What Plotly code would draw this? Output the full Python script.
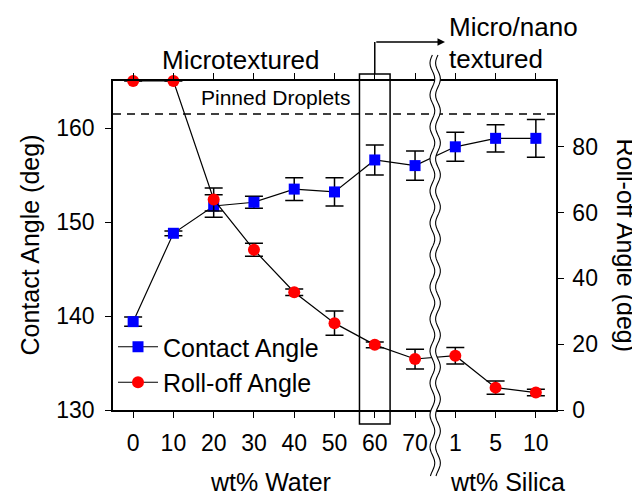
import numpy as np
import plotly.graph_objects as go

# ---------------- data ----------------
x_pos = list(range(11))
tick_labels = ["0", "10", "20", "30", "40", "50", "60", "70", "1", "5", "10"]

contact_angle = [139.4, 148.8, 151.7, 152.1, 153.5, 153.2, 156.6, 156.0, 158.0, 158.9, 158.9]
contact_err = [0.5, 0.25, 1.2, 0.65, 1.2, 1.5, 1.6, 1.55, 1.55, 1.45, 2.0]

rolloff_angle = [100, 100, 64.0, 48.7, 35.8, 26.4, 19.8, 15.5, 16.5, 6.8, 5.3]
rolloff_err = [0, 0, 3.5, 2.0, 1.0, 3.7, 0.9, 3.0, 2.5, 2.0, 1.0]

pinned_level = 90

FONT = "Liberation Sans, Arial, sans-serif"

fig = go.Figure()

fig.add_trace(go.Scatter(
    x=x_pos, y=contact_angle, name="Contact Angle", mode="lines+markers",
    line=dict(color="black", width=1.2),
    marker=dict(symbol="square", size=11, color="#0000FF"),
    error_y=dict(type="data", array=contact_err, visible=True, color="black", thickness=1.5, width=9),
    yaxis="y", cliponaxis=False,
))
fig.add_trace(go.Scatter(
    x=x_pos, y=rolloff_angle, name="Roll-off Angle", mode="lines+markers",
    line=dict(color="black", width=1.2),
    marker=dict(symbol="circle", size=12, color="#FF0000"),
    error_y=dict(type="data", array=rolloff_err, visible=True, color="black", thickness=1.5, width=9),
    yaxis="y2", cliponaxis=False,
))

# page geometry (browser body has an 8px margin)
OFF = 8
W, H = 640, 497
L, R, T, B = 113, 84, 81, 87          # plot-area edges in screen pixels
PW, PH = W - L - R, H - T - B


def py(pix_y):
    """screen pixel y -> paper y"""
    return (H - B - pix_y) / PH


def dx(pix_x):
    """screen pixel x -> data x"""
    return -0.5 + (pix_x - L) / PW * 11.0


shapes = []
# dashed "pinned" line
shapes.append(dict(type="line", xref="paper", yref="y2", x0=0, x1=1.01, y0=pinned_level, y1=pinned_level,
                   line=dict(color="black", width=1.5, dash="8px,6px"), layer="above"))
# box around 60 wt%
shapes.append(dict(type="rect", xref="x", yref="paper", x0=5.62, x1=6.38, y0=py(424), y1=py(74),
                   line=dict(color="black", width=1.5), fillcolor="rgba(0,0,0,0)", layer="above"))
# vertical part of arrow
shapes.append(dict(type="line", xref="x", yref="paper", x0=6, x1=6, y0=py(74), y1=py(42),
                   line=dict(color="black", width=1.5), layer="above"))

# axis break (double wavy line)
ys = np.linspace(py(55), py(476), 160)
amp = 2.4 / PW * 11.0
period = 32 / PH
off = 2.8 / PW * 11.0
xc = 7.5
wave = amp * np.sin(2 * np.pi * (ys - ys[0]) / period)
left_line = xc - off + wave
right_line = xc + off + wave
band = "M " + " L ".join(f"{a:.4f},{b:.4f}" for a, b in zip(left_line, ys))
band += " L " + " L ".join(f"{a:.4f},{b:.4f}" for a, b in zip(right_line[::-1], ys[::-1])) + " Z"
shapes.append(dict(type="path", xref="x", yref="paper", path=band, fillcolor="white",
                   line=dict(width=0), layer="above"))
for ln in (left_line, right_line):
    p = "M " + " L ".join(f"{a:.4f},{b:.4f}" for a, b in zip(ln, ys))
    shapes.append(dict(type="path", xref="x", yref="paper", path=p,
                       line=dict(color="black", width=1.1), layer="above"))

annotations = [
    dict(text="Contact Angle (deg)", xref="paper", yref="paper", x=(29 - L) / PW, y=0.5,
         textangle=-90, showarrow=False, font=dict(size=25), xanchor="center", yanchor="middle"),
    dict(text="Roll-off Angle (deg)", xref="paper", yref="paper", x=(626 - L) / PW, y=0.5,
         textangle=90, showarrow=False, font=dict(size=25), xanchor="center", yanchor="middle"),
    dict(text="wt% Water", xref="x", yref="paper", x=dx(270), y=py(482), showarrow=False,
         font=dict(size=25), xanchor="center", yanchor="middle"),
    dict(text="wt% Silica", xref="x", yref="paper", x=dx(507), y=py(482), showarrow=False,
         font=dict(size=25), xanchor="center", yanchor="middle"),
    dict(text="Microtextured", xref="x", yref="paper", x=dx(241), y=py(60), showarrow=False,
         font=dict(size=26), xanchor="center", yanchor="middle"),
    dict(text="Micro/nano", xref="x", yref="paper", x=dx(447), y=py(27), showarrow=False,
         font=dict(size=26), xanchor="left", yanchor="middle"),
    dict(text="textured", xref="x", yref="paper", x=dx(447), y=py(59), showarrow=False,
         font=dict(size=26), xanchor="left", yanchor="middle"),
    dict(text="Pinned Droplets", xref="x", yref="paper", x=dx(275), y=py(97), showarrow=False,
         font=dict(size=21), xanchor="center", yanchor="middle"),
    dict(text="", xref="x", yref="paper", x=dx(445), y=py(42), axref="pixel", ayref="pixel",
         ax=-(445 - (L + (6 + 0.5) / 11 * PW)), ay=0, showarrow=True, arrowhead=2,
         arrowsize=1, arrowwidth=1.5, arrowcolor="black", standoff=0),
]

fig.update_layout(
    width=W - OFF, height=H - OFF,
    margin=dict(l=L - OFF, r=R, t=T - OFF, b=B),
    paper_bgcolor="white", plot_bgcolor="white",
    font=dict(family=FONT, size=23, color="black"),
    showlegend=True,
    legend=dict(x=0.0, y=py(405), xanchor="left", yanchor="bottom", bgcolor="rgba(0,0,0,0)",
                font=dict(size=25), itemwidth=40, tracegroupgap=0),
    xaxis=dict(range=[-0.5, 10.5], tickmode="array", tickvals=x_pos, ticktext=tick_labels,
               showline=True, linecolor="black", linewidth=1.5, mirror="ticks",
               ticks="outside", ticklen=6, tickwidth=1.2, tickcolor="black",
               showgrid=False, zeroline=False, ticklabelstandoff=6),
    yaxis=dict(range=[130, 165], tickvals=[130, 140, 150, 160], showline=True, linecolor="black",
               linewidth=1.5, ticks="outside", ticklen=6, tickwidth=1.2, tickcolor="black",
               showgrid=False, zeroline=False, ticklabelstandoff=6),
    yaxis2=dict(range=[0, 100], tickvals=[0, 20, 40, 60, 80], overlaying="y", side="right",
                showline=True, linecolor="black", linewidth=1.5, ticks="outside", ticklen=6,
                tickwidth=1.2, tickcolor="black", showgrid=False, zeroline=False,
                ticklabelstandoff=4),
    shapes=shapes,
    annotations=annotations,
)

fig.write_html("out.html")
